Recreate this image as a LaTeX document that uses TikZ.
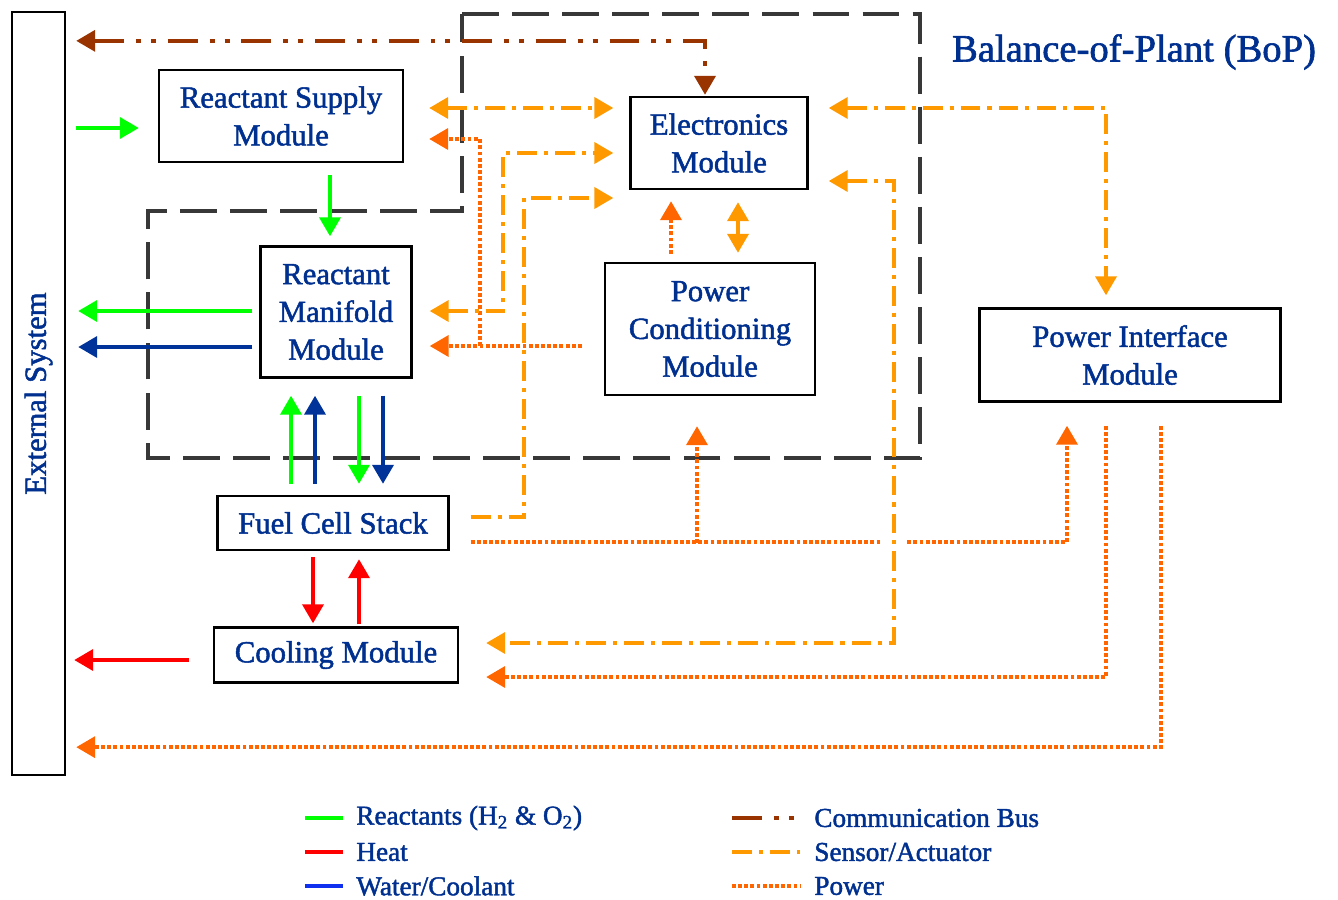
\documentclass[tikz,border=0pt]{standalone}
\usepackage{fontspec}
\setmainfont{Liberation Serif}[FakeBold=1.6]
\usetikzlibrary{arrows.meta,calc}

\definecolor{labelblue}{HTML}{00308F}
\definecolor{reactgreen}{HTML}{00FF00}
\definecolor{heatred}{HTML}{FF0000}
\definecolor{waternavy}{HTML}{003399}
\definecolor{waterblue}{HTML}{1030F0}
\definecolor{busbrown}{HTML}{993300}
\definecolor{sensororange}{HTML}{FF9900}
\definecolor{powerorange}{HTML}{FF6600}
\definecolor{bopgray}{HTML}{383838}

\tikzset{
	module/.style={draw, line width=1.4pt, fill=white, text=labelblue, align=center, inner sep=0pt, font=\fontsize{17.5}{21.5}\selectfont},
	legtext/.style={anchor=west, text=labelblue, inner sep=0pt, font=\fontsize{15.5}{18}\selectfont},
	bop/.style={draw=bopgray, line width=2.8pt, dash pattern=on 21pt off 7.5pt},
	react/.style={draw=reactgreen, line width=2.2pt},
	heat/.style={draw=heatred, line width=2.2pt},
	water/.style={draw=waternavy, line width=2.2pt},
	bus/.style={draw=busbrown, line width=2.2pt, dash pattern=on 17pt off 6.8pt on 2.8pt off 5.7pt on 2.8pt off 6.8pt},
	sensor/.style={draw=sensororange, line width=2.2pt, dash pattern=on 11.3pt off 4pt on 2.3pt off 4pt},
	power/.style={draw=powerorange, line width=2.2pt, dash pattern=on 2.2pt off 1.3pt}
}

\begin{document}
\begin{tikzpicture}[x=0.02cm, y=-0.02cm, >={Triangle[length=0.38cm,width=0.42cm]}]
	%%%%% START %%%%%
	\useasboundingbox (0,0) rectangle (1338,899);
	
	% balance-of-plant boundary
	\draw[bop] (462,14) -- (920,14) -- (920,458) -- (148,458) -- (148,211) -- (462,211) -- cycle;
	\node[text=labelblue, font=\fontsize{22}{26}\selectfont] (boptitle) at (1134,52) {Balance-of-Plant (BoP)};
	
	% modules
	\node[module, minimum width=1.06cm, minimum height=15.26cm,
		label={[rotate=90, text=labelblue, font=\fontsize{17.5}{21.5}\selectfont]center:External System}] (ext) at (38.5,393.5) {};
	\node[module, minimum width=4.88cm, minimum height=1.84cm] (supply) at (281,116) {Reactant Supply\\Module};
	\node[module, minimum width=3.54cm, minimum height=1.84cm] (elec) at (719,143) {Electronics\\Module};
	\node[module, minimum width=3.02cm, minimum height=2.62cm] (manifold) at (336,312) {Reactant\\Manifold\\Module};
	\node[module, minimum width=4.2cm, minimum height=2.64cm] (pcond) at (710,329) {Power\\Conditioning\\Module};
	\node[module, minimum width=6.02cm, minimum height=1.86cm] (pif) at (1130,355) {Power Interface\\Module};
	\node[module, minimum width=4.62cm, minimum height=1.08cm] (fcs) at (333,523) {Fuel Cell Stack};
	\node[module, minimum width=4.88cm, minimum height=1.1cm] (cool) at (336,655) {Cooling Module};
	
	% reactants, water
	\draw[react,->] ($(ext.east|-supply.west)+(10,12)$) -- ($(supply.west)+(-19,12)$);
	\draw[react,->] ($(supply.south-|manifold.north)+(-6,12)$) -- ($(manifold.north)+(-6,-9)$);
	\draw[react,->] ($(manifold.west)+(-7,-1)$) -- ($(manifold.west-|ext.east)+(12,-1)$);
	\draw[water,->] ($(manifold.west)+(-7,35)$) -- ($(manifold.west-|ext.east)+(12,35)$);
	\draw[react,->] ($(fcs.north)+(-42,-11)$) -- ($(fcs.north|-manifold.south)+(-42,17)$);
	\draw[water,->] ($(fcs.north)+(-18,-11)$) -- ($(fcs.north|-manifold.south)+(-18,17)$);
	\draw[react,->] ($(fcs.north|-manifold.south)+(26,17)$) -- ($(fcs.north)+(26,-11)$);
	\draw[water,->] ($(fcs.north|-manifold.south)+(50,17)$) -- ($(fcs.north)+(50,-11)$);
	
	% heat
	\draw[heat,->] ($(fcs.south)+(-20,6)$) -- ($(fcs.south|-cool.north)+(-20,-3)$);
	\draw[heat,->] ($(fcs.south|-cool.north)+(26,-2)$) -- ($(fcs.south)+(26,8)$);
	\draw[heat,->] ($(cool.west)+(-24,5)$) -- ($(cool.west-|ext.east)+(8,5)$);
	
	% communication bus
	\draw[bus,<->] ($(ext.north east)+(10,30)$) -| ($(elec.north)+(-14,-1)$);
	
	% power
	\draw[power,->] ($(pcond.west)+(-22,17)$) -- ($(manifold.east)+(17,34)$);
	\draw[power,->] ($(manifold.east)+(67,34)$) |- ($(supply.east)+(25,23)$);
	\draw[power,->] ($(pcond.north)+(-39,-8)$) -- ($(pcond.north|-elec.south)+(-39,11)$);
	\draw[power,->] ($(fcs.east)+(21,19)$) -| ($(pif.south)+(-63,23)$);
	\draw[power,->] ($(pcond.south)+(-13,147)$) -- ($(pcond.south)+(-13,30)$);
	\draw[power,->] ($(pif.south)+(-24,23)$) |- ($(cool.east)+(27,22)$);
	\draw[power,->] ($(pif.south)+(31,23)$) |- ($(ext.south east)+(10,-29)$);
	\fill[white] ($(elec.east)+(72,392)$) rectangle ($(elec.east)+(98,406)$);
	
	% sensor / actuator
	\draw[sensor,<->] ($(supply.east)+(25,-8)$) -- ($(elec.west)+(-16,-35)$);
	\draw[sensor,<->] ($(manifold.east)+(17,-1)$) -| ($(elec.west)+(-126,10)$) -- ($(elec.west)+(-16,10)$);
	\draw[sensor,->] ($(fcs.east)+(21,-6)$) -| ($(elec.west)+(-105,55)$) -- ($(elec.west)+(-16,55)$);
	\draw[sensororange, line width=2.2pt,<->] ($(elec.south)+(19,12)$) -- ($(elec.south|-pcond.north)+(19,-9)$);
	\draw[sensor,<->] ($(elec.east)+(20,-35)$) -| ($(pif.north)+(-24,-12)$);
	\draw[sensor,<->] ($(elec.east)+(20,38)$) -- ($(elec.east)+(85,38)$) |- ($(cool.east)+(27,-12)$);
	
	% legend
	\node[legtext] (lgreact) at (356,818) {Reactants (H\textsubscript{2} \& O\textsubscript{2})};
	\node[legtext] (lgheat) at (356,852) {Heat};
	\node[legtext] (lgwater) at (356,886) {Water/Coolant};
	\node[legtext] (lgbus) at (814,818) {Communication Bus};
	\node[legtext] (lgsensor) at (814,852) {Sensor/Actuator};
	\node[legtext] (lgpower) at (814,886) {Power};
	\draw[react] ($(lgreact.west)+(-51,0)$) -- ($(lgreact.west)+(-13,0)$);
	\draw[heat] ($(lgheat.west)+(-51,0)$) -- ($(lgheat.west)+(-13,0)$);
	\draw[water, draw=waterblue] ($(lgwater.west)+(-51,0)$) -- ($(lgwater.west)+(-13,0)$);
	\draw[bus] ($(lgbus.west)+(-82,0)$) -- ($(lgbus.west)+(-14,0)$);
	\draw[sensor] ($(lgsensor.west)+(-82,0)$) -- ($(lgsensor.west)+(-14,0)$);
	\draw[power] ($(lgpower.west)+(-82,0)$) -- ($(lgpower.west)+(-14,0)$);
	%%%%% END %%%%%
\end{tikzpicture}
\end{document}
